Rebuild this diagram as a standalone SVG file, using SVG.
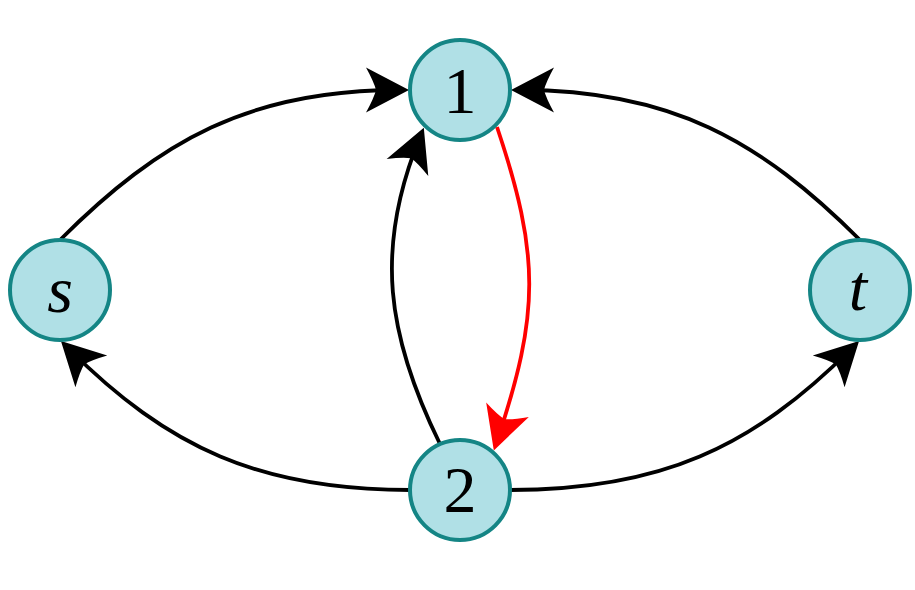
<svg xmlns="http://www.w3.org/2000/svg" width="915" height="590" viewBox="0 0 915 590">
<style>
.node circle{fill:#b0e0e6;stroke:#148585;stroke-width:4}
.node text{font-family:"Liberation Serif","DejaVu Serif",serif;font-size:66px;text-anchor:middle;fill:#000}
.node text.it{font-style:italic}
.edge{fill:none;stroke:#000;stroke-width:3.8}
.edge.red{stroke:#ff0000}
</style>
<defs>
<marker id="ah" markerUnits="userSpaceOnUse" markerWidth="60" markerHeight="60" viewBox="-40 -30 60 60" refX="0" refY="0" orient="auto" overflow="visible">
<path d="M10,0 L-33,-22.5 Q-25,-8 -23,0 Q-25,8 -33,22.5 Z" fill="#000"/>
</marker>
<marker id="ahr" markerUnits="userSpaceOnUse" markerWidth="60" markerHeight="60" viewBox="-40 -30 60 60" refX="0" refY="0" orient="auto" overflow="visible">
<path d="M10,0 L-33,-22.5 Q-25,-8 -23,0 Q-25,8 -33,22.5 Z" fill="#ff0000"/>
</marker>
</defs>
<g id="connectors">
<path class="edge" d="M60,240 C160,140 250,90 399,90" marker-end="url(#ah)"/>
<path class="edge" d="M860,240 C760,140 670,90 521,90" marker-end="url(#ah)"/>
<path class="edge" d="M410,490 C260,490 168,448 68,348" marker-end="url(#ah)"/>
<path class="edge" d="M510,490 C660,490 752,448 852,348" marker-end="url(#ah)"/>
<path class="edge" d="M440,444 C387,336 374,249 420,137" marker-end="url(#ah)"/>
<path class="edge red" d="M497,127 C540,255 540,313 497,441" marker-end="url(#ahr)"/>
</g>
<g id="node-1" class="node"><circle cx="460" cy="90" r="50"/><text x="460" y="113">1</text></g>
<g id="node-s" class="node"><circle cx="60" cy="290" r="50"/><text class="it" x="60" y="312">s</text></g>
<g id="node-t" class="node"><circle cx="860" cy="290" r="50"/><text class="it" x="858" y="310">t</text></g>
<g id="node-2" class="node"><circle cx="460" cy="490" r="50"/><text x="460" y="512">2</text></g>
</svg>
